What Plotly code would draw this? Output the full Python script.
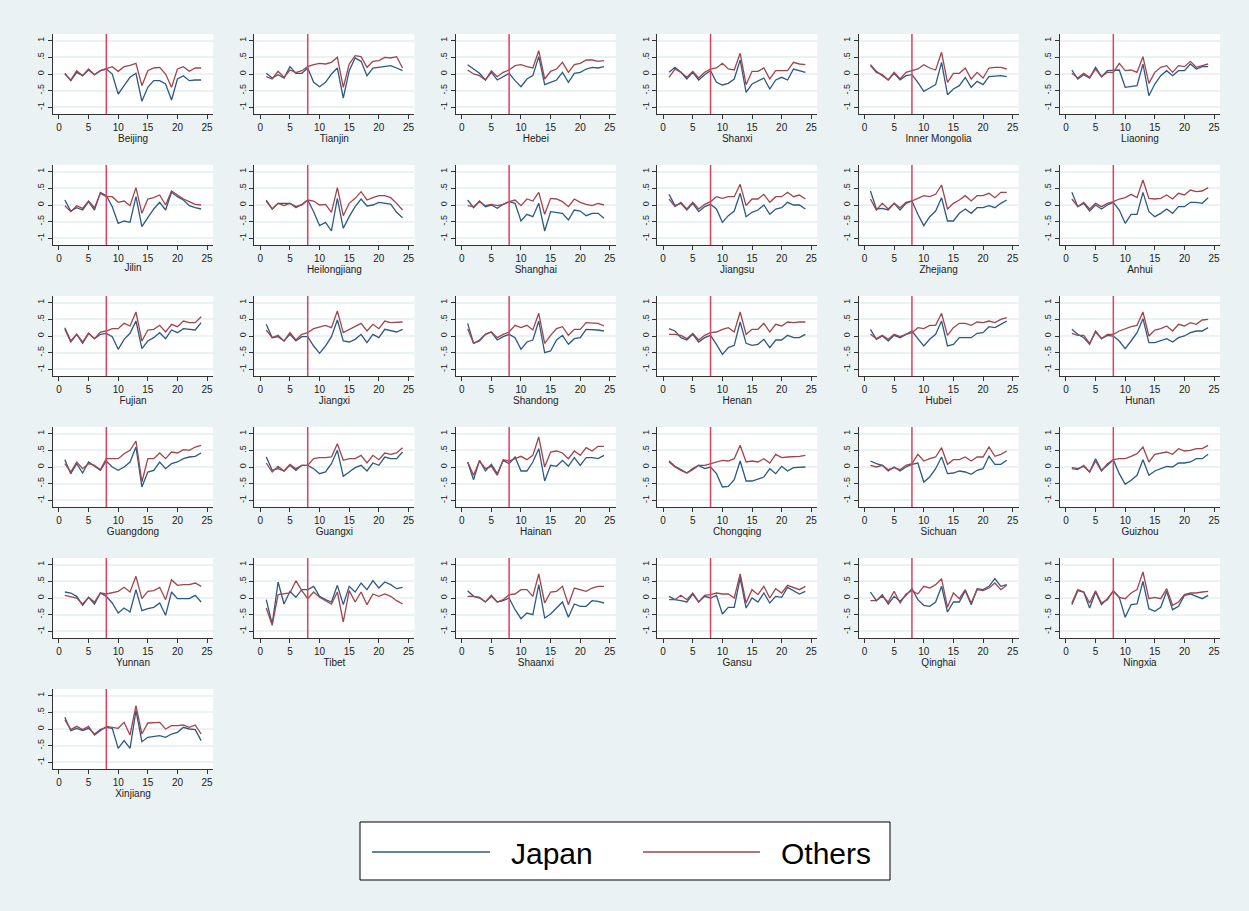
import plotly.graph_objects as go

W, H = 1249, 911

periods = list(range(1, 25))

provinces = [
    "Beijing", "Tianjin", "Hebei", "Shanxi", "Inner Mongolia", "Liaoning",
    "Jilin", "Heilongjiang", "Shanghai", "Jiangsu", "Zhejiang", "Anhui",
    "Fujian", "Jiangxi", "Shandong", "Henan", "Hubei", "Hunan",
    "Guangdong", "Guangxi", "Hainan", "Chongqing", "Sichuan", "Guizhou",
    "Yunnan", "Tibet", "Shaanxi", "Gansu", "Qinghai", "Ningxia",
    "Xinjiang",
]

japan = {
    "Beijing": [0.02, -0.2, 0.05, -0.05, 0.12, -0.02, 0.1, 0.15, 0.0, -0.6, -0.35, -0.1, 0.02, -0.82, -0.4, -0.2, -0.2, -0.3, -0.78, -0.15, -0.05, -0.2, -0.18, -0.18],
    "Tianjin": [0.02, -0.12, -0.02, -0.12, 0.22, 0.02, 0.02, 0.18, -0.25, -0.38, -0.25, 0.0, 0.18, -0.72, 0.1, 0.48, 0.38, -0.05, 0.18, 0.2, 0.24, 0.25, 0.18, 0.1],
    "Hebei": [0.28, 0.15, 0.02, -0.18, 0.05, -0.18, -0.08, 0.02, -0.2, -0.38, -0.15, -0.05, 0.52, -0.32, -0.25, -0.18, 0.05, -0.25, 0.02, 0.05, 0.15, 0.2, 0.18, 0.22],
    "Shanxi": [0.05, 0.2, 0.05, -0.15, 0.05, -0.18, -0.02, 0.1, -0.25, -0.33, -0.28, -0.15, 0.42, -0.55, -0.3, -0.2, -0.12, -0.45, -0.18, -0.1, -0.18, 0.15, 0.1, 0.05],
    "Inner Mongolia": [0.28, 0.08, -0.05, -0.18, 0.02, -0.18, -0.05, -0.02, -0.25, -0.52, -0.42, -0.32, 0.35, -0.62, -0.45, -0.35, -0.1, -0.4, -0.22, -0.32, -0.08, -0.06, -0.05, -0.08],
    "Liaoning": [0.12, -0.15, -0.02, -0.12, 0.2, -0.08, 0.1, 0.12, 0.12, -0.4, -0.38, -0.35, 0.3, -0.65, -0.3, -0.05, 0.1, -0.05, 0.1, 0.1, 0.3, 0.15, 0.22, 0.22],
    "Jilin": [0.15, -0.18, -0.08, -0.15, 0.1, -0.15, 0.38, 0.28, -0.05, -0.55, -0.48, -0.52, 0.25, -0.65, -0.38, -0.12, 0.08, -0.15, 0.38, 0.25, 0.15, -0.02, -0.08, -0.12],
    "Heilongjiang": [0.15, -0.12, 0.05, 0.05, 0.05, -0.05, 0.0, 0.15, -0.2, -0.62, -0.52, -0.78, 0.2, -0.7, -0.35, -0.05, 0.18, -0.03, 0.0, 0.08, 0.05, 0.03, -0.22, -0.38],
    "Shanghai": [0.15, -0.08, 0.12, -0.05, 0.0, -0.1, 0.02, 0.1, 0.05, -0.48, -0.28, -0.35, 0.05, -0.78, -0.2, -0.22, -0.25, -0.45, -0.15, -0.18, -0.32, -0.25, -0.25, -0.4],
    "Jiangsu": [0.32, -0.02, 0.05, -0.15, 0.05, -0.2, -0.05, 0.02, -0.12, -0.52, -0.32, -0.18, 0.35, -0.35, -0.22, -0.15, 0.0, -0.28, -0.12, -0.08, 0.08, 0.0, 0.0, -0.12],
    "Zhejiang": [0.42, -0.12, -0.1, -0.15, 0.05, -0.15, 0.05, 0.12, -0.28, -0.62, -0.35, -0.18, 0.22, -0.48, -0.48, -0.25, -0.12, -0.25, -0.08, -0.08, -0.02, -0.08, 0.05, 0.15],
    "Anhui": [0.38, -0.05, 0.05, -0.18, 0.0, -0.12, 0.0, 0.08, -0.15, -0.55, -0.28, -0.28, 0.38, -0.2, -0.35, -0.25, -0.12, -0.25, -0.05, -0.05, 0.08, 0.08, 0.05, 0.22],
    "Fujian": [0.25, -0.15, 0.05, -0.22, 0.08, -0.08, 0.05, 0.08, -0.02, -0.4, -0.1, 0.08, 0.45, -0.38, -0.15, -0.05, 0.1, -0.08, 0.18, 0.1, 0.22, 0.2, 0.18, 0.4],
    "Jiangxi": [0.35, -0.05, -0.02, -0.15, 0.05, -0.15, -0.02, -0.02, -0.3, -0.52, -0.3, -0.02, 0.48, -0.15, -0.18, -0.1, 0.05, -0.2, 0.05, -0.05, 0.2, 0.15, 0.12, 0.2],
    "Shandong": [0.38, -0.22, -0.15, 0.05, 0.12, -0.12, -0.02, 0.05, -0.05, -0.4, -0.18, -0.12, 0.45, -0.5, -0.45, -0.12, 0.02, -0.25, -0.08, -0.05, 0.2, 0.2, 0.18, 0.15],
    "Henan": [0.22, 0.15, -0.05, -0.12, 0.05, -0.18, -0.05, 0.02, -0.25, -0.55, -0.35, -0.28, 0.42, -0.22, -0.28, -0.25, -0.1, -0.35, -0.12, -0.12, 0.02, -0.05, -0.05, 0.05],
    "Hubei": [0.2, -0.1, 0.0, -0.15, 0.02, -0.05, 0.05, 0.15, -0.08, -0.3, -0.1, 0.05, 0.45, -0.3, -0.25, -0.05, -0.05, -0.05, 0.08, 0.1, 0.28, 0.25, 0.35, 0.45],
    "Hunan": [0.2, 0.05, -0.05, -0.25, 0.15, -0.08, 0.02, 0.0, -0.15, -0.38, -0.15, 0.1, 0.52, -0.2, -0.2, -0.15, -0.08, -0.18, -0.05, 0.0, 0.1, 0.15, 0.15, 0.25],
    "Guangdong": [0.22, -0.2, 0.1, -0.18, 0.15, 0.02, -0.1, 0.18, 0.0, -0.1, 0.0, 0.15, 0.6, -0.6, -0.15, -0.1, 0.15, -0.05, 0.1, 0.15, 0.25, 0.3, 0.32, 0.42],
    "Guangxi": [0.3, -0.1, -0.05, -0.12, 0.05, -0.1, 0.05, 0.05, -0.05, -0.2, -0.15, 0.1, 0.5, -0.28, -0.15, -0.02, 0.05, -0.12, 0.12, 0.05, 0.3, 0.25, 0.25, 0.45],
    "Hainan": [0.15, -0.38, 0.2, -0.12, 0.08, -0.2, 0.2, 0.1, 0.3, -0.12, -0.12, 0.15, 0.55, -0.42, 0.05, 0.02, 0.2, 0.02, 0.28, 0.05, 0.28, 0.28, 0.25, 0.35],
    "Chongqing": [0.18, 0.02, -0.08, -0.18, -0.05, 0.05, -0.05, 0.0, -0.2, -0.6, -0.58, -0.38, 0.18, -0.42, -0.42, -0.35, -0.3, -0.05, -0.2, 0.02, -0.12, -0.02, 0.0, 0.0],
    "Sichuan": [0.18, 0.1, 0.05, -0.12, 0.0, -0.12, 0.0, 0.08, 0.12, -0.45, -0.3, -0.05, 0.3, -0.2, -0.18, -0.12, -0.15, -0.22, -0.1, -0.05, 0.32, 0.08, 0.08, 0.2],
    "Guizhou": [-0.02, -0.05, 0.02, -0.15, 0.25, -0.1, 0.05, 0.22, -0.2, -0.52, -0.4, -0.25, 0.22, -0.25, -0.12, -0.05, 0.02, 0.0, 0.12, 0.12, 0.15, 0.25, 0.25, 0.38],
    "Yunnan": [0.18, 0.15, 0.05, -0.22, 0.02, -0.18, 0.15, 0.05, -0.15, -0.45, -0.3, -0.42, 0.25, -0.38, -0.32, -0.28, -0.15, -0.52, 0.18, -0.02, -0.02, -0.02, 0.08, -0.12],
    "Tibet": [-0.05, -0.78, 0.48, -0.18, 0.2, 0.02, 0.25, 0.25, 0.35, 0.05, -0.05, -0.12, 0.38, -0.2, 0.35, 0.18, 0.45, 0.25, 0.52, 0.3, 0.48, 0.4, 0.28, 0.32],
    "Shaanxi": [0.22, 0.05, 0.02, -0.12, 0.05, -0.12, -0.08, 0.0, -0.35, -0.62, -0.45, -0.5, 0.4, -0.6, -0.48, -0.3, -0.12, -0.58, -0.18, -0.25, -0.25, -0.08, -0.1, -0.15],
    "Gansu": [0.05, -0.05, -0.08, -0.12, 0.12, -0.12, 0.05, 0.0, 0.08, -0.48, -0.28, -0.28, 0.6, -0.3, 0.0, -0.12, 0.15, -0.15, 0.05, 0.02, 0.32, 0.22, 0.12, 0.2],
    "Qinghai": [0.18, -0.08, 0.1, -0.18, 0.05, -0.1, 0.08, 0.28, -0.05, -0.22, -0.25, -0.12, 0.35, -0.42, -0.12, -0.12, 0.22, -0.2, 0.28, 0.25, 0.35, 0.58, 0.35, 0.4],
    "Ningxia": [-0.2, 0.22, 0.18, -0.3, 0.18, -0.2, -0.02, 0.2, 0.02, -0.58, -0.2, -0.18, 0.5, -0.32, -0.4, -0.28, 0.2, -0.35, -0.25, 0.08, 0.12, 0.05, -0.02, 0.08],
    "Xinjiang": [0.35, -0.05, 0.02, -0.05, 0.02, -0.15, -0.02, 0.05, 0.02, -0.58, -0.35, -0.58, 0.55, -0.38, -0.25, -0.22, -0.2, -0.25, -0.15, -0.1, 0.05, 0.0, -0.02, -0.35],
}

others = {
    "Beijing": [0.0, -0.18, 0.1, -0.05, 0.15, -0.02, 0.1, 0.15, 0.22, 0.08, 0.22, 0.26, 0.32, -0.35, 0.1, 0.18, 0.2, 0.0, -0.4, 0.15, 0.22, 0.08, 0.18, 0.18],
    "Tianjin": [-0.08, -0.15, 0.08, -0.1, 0.12, 0.04, 0.1, 0.22, 0.28, 0.32, 0.3, 0.35, 0.5, -0.4, 0.3, 0.55, 0.52, 0.2, 0.38, 0.4, 0.5, 0.48, 0.52, 0.18],
    "Hebei": [0.12, 0.0, -0.05, -0.18, 0.1, -0.08, 0.05, 0.12, 0.25, 0.28, 0.22, 0.18, 0.7, -0.15, 0.08, 0.15, 0.35, 0.05, 0.28, 0.32, 0.42, 0.42, 0.38, 0.4],
    "Shanxi": [-0.1, 0.15, 0.05, -0.1, 0.08, -0.12, 0.05, 0.15, 0.18, 0.32, 0.15, 0.12, 0.62, -0.32, 0.08, 0.08, 0.18, -0.15, 0.1, 0.1, 0.1, 0.35, 0.3, 0.28],
    "Inner Mongolia": [0.25, 0.05, -0.02, -0.18, 0.05, -0.15, 0.05, 0.1, 0.15, 0.28, 0.18, 0.12, 0.65, -0.25, 0.02, 0.02, 0.18, -0.15, 0.05, -0.12, 0.18, 0.2, 0.2, 0.15],
    "Liaoning": [0.02, -0.12, 0.02, -0.1, 0.15, -0.08, 0.05, 0.05, 0.32, 0.1, 0.12, 0.05, 0.52, -0.28, 0.05, 0.2, 0.25, 0.05, 0.25, 0.22, 0.38, 0.2, 0.25, 0.3],
    "Jilin": [-0.02, -0.2, -0.02, -0.1, 0.12, -0.08, 0.35, 0.25, 0.25, 0.08, 0.12, -0.02, 0.52, -0.25, 0.18, 0.22, 0.3, 0.0, 0.42, 0.3, 0.18, 0.1, 0.02, 0.0],
    "Heilongjiang": [0.12, -0.12, 0.05, -0.02, 0.05, -0.08, 0.02, 0.15, 0.12, 0.0, 0.02, -0.22, 0.52, -0.32, 0.05, 0.2, 0.4, 0.15, 0.22, 0.28, 0.28, 0.22, 0.05, -0.15],
    "Shanghai": [-0.02, -0.05, 0.1, -0.02, 0.02, -0.02, 0.02, 0.1, 0.15, -0.02, 0.18, 0.12, 0.38, -0.28, 0.2, 0.18, 0.1, -0.05, 0.18, 0.08, 0.02, -0.02, 0.05, 0.0],
    "Jiangsu": [0.18, -0.05, 0.08, -0.12, 0.08, -0.12, 0.02, 0.1, 0.25, 0.2, 0.25, 0.25, 0.62, -0.02, 0.18, 0.18, 0.32, 0.08, 0.25, 0.25, 0.38, 0.25, 0.3, 0.18],
    "Zhejiang": [0.18, -0.15, 0.05, -0.12, 0.05, -0.08, 0.08, 0.12, 0.2, 0.28, 0.25, 0.32, 0.6, -0.12, 0.05, 0.15, 0.28, 0.12, 0.28, 0.28, 0.35, 0.22, 0.38, 0.38],
    "Anhui": [0.18, -0.05, 0.08, -0.12, 0.05, -0.05, 0.05, 0.1, 0.18, 0.22, 0.32, 0.22, 0.75, 0.2, 0.18, 0.2, 0.3, 0.18, 0.35, 0.3, 0.45, 0.4, 0.42, 0.52],
    "Fujian": [0.2, -0.18, 0.05, -0.18, 0.08, -0.08, 0.12, 0.15, 0.22, 0.22, 0.38, 0.3, 0.72, -0.15, 0.18, 0.2, 0.32, 0.12, 0.35, 0.28, 0.45, 0.4, 0.4, 0.58],
    "Jiangxi": [0.18, -0.05, 0.02, -0.15, 0.1, -0.12, 0.05, 0.1, 0.22, 0.28, 0.32, 0.25, 0.75, 0.1, 0.2, 0.28, 0.38, 0.15, 0.35, 0.22, 0.45, 0.4, 0.4, 0.42],
    "Shandong": [0.22, -0.22, -0.12, 0.05, 0.12, -0.05, 0.05, 0.12, 0.32, 0.25, 0.32, 0.18, 0.68, -0.22, 0.02, 0.22, 0.28, 0.02, 0.2, 0.2, 0.4, 0.38, 0.38, 0.3],
    "Henan": [0.05, 0.05, 0.02, -0.08, 0.08, -0.12, 0.02, 0.1, 0.12, 0.2, 0.25, 0.12, 0.72, 0.05, 0.2, 0.2, 0.38, 0.12, 0.35, 0.3, 0.42, 0.4, 0.42, 0.42],
    "Hubei": [0.05, -0.08, 0.02, -0.1, 0.05, -0.02, 0.05, 0.1, 0.25, 0.22, 0.32, 0.32, 0.68, 0.02, 0.25, 0.38, 0.38, 0.32, 0.42, 0.4, 0.45, 0.4, 0.5, 0.55],
    "Hunan": [0.08, 0.02, 0.02, -0.22, 0.12, -0.08, 0.05, 0.05, 0.15, 0.22, 0.28, 0.32, 0.72, 0.0, 0.18, 0.22, 0.3, 0.15, 0.35, 0.3, 0.4, 0.35, 0.48, 0.5],
    "Guangdong": [0.1, -0.15, 0.15, -0.05, 0.1, 0.05, -0.08, 0.25, 0.25, 0.25, 0.4, 0.5, 0.78, -0.45, 0.25, 0.25, 0.42, 0.25, 0.45, 0.42, 0.52, 0.5, 0.6, 0.65],
    "Guangxi": [0.12, -0.15, 0.02, -0.12, 0.08, -0.05, 0.05, 0.05, 0.25, 0.28, 0.28, 0.3, 0.7, 0.2, 0.25, 0.25, 0.35, 0.12, 0.35, 0.22, 0.42, 0.38, 0.42, 0.58],
    "Hainan": [0.15, -0.25, 0.18, -0.05, 0.02, -0.25, 0.22, 0.18, 0.25, 0.32, 0.22, 0.35, 0.9, 0.0, 0.45, 0.48, 0.42, 0.25, 0.48, 0.35, 0.58, 0.48, 0.62, 0.62],
    "Chongqing": [0.15, 0.0, -0.1, -0.18, -0.08, 0.05, 0.05, 0.1, 0.15, 0.2, 0.18, 0.25, 0.65, 0.15, 0.18, 0.15, 0.25, 0.12, 0.38, 0.28, 0.3, 0.3, 0.32, 0.35],
    "Sichuan": [0.05, 0.0, 0.05, -0.08, -0.02, -0.08, 0.05, 0.1, 0.38, 0.18, 0.25, 0.3, 0.58, 0.08, 0.22, 0.22, 0.3, 0.18, 0.3, 0.3, 0.6, 0.32, 0.38, 0.48],
    "Guizhou": [-0.05, -0.08, 0.05, -0.15, 0.18, -0.12, 0.1, 0.22, 0.25, 0.25, 0.32, 0.4, 0.6, 0.15, 0.38, 0.42, 0.45, 0.38, 0.55, 0.48, 0.5, 0.55, 0.55, 0.65],
    "Yunnan": [0.08, 0.05, 0.0, -0.18, 0.02, -0.12, 0.15, 0.12, 0.15, 0.2, 0.32, 0.18, 0.65, -0.02, 0.2, 0.22, 0.32, -0.05, 0.55, 0.38, 0.4, 0.4, 0.45, 0.35],
    "Tibet": [-0.3, -0.82, 0.1, 0.12, 0.15, 0.52, 0.22, -0.02, 0.18, 0.02, -0.08, -0.18, 0.18, -0.72, 0.22, -0.12, 0.18, -0.2, 0.12, 0.05, 0.12, 0.05, -0.08, -0.18],
    "Shaanxi": [0.05, 0.05, 0.0, -0.12, 0.08, -0.12, -0.05, 0.1, 0.12, 0.25, 0.25, 0.05, 0.72, -0.15, 0.18, 0.2, 0.35, -0.2, 0.3, 0.25, 0.2, 0.3, 0.35, 0.35],
    "Gansu": [-0.05, -0.05, 0.08, -0.05, 0.15, -0.12, 0.08, 0.1, 0.15, 0.12, 0.12, 0.0, 0.72, -0.15, 0.25, 0.1, 0.35, 0.0, 0.28, 0.15, 0.38, 0.32, 0.25, 0.35],
    "Qinghai": [-0.08, -0.08, 0.05, -0.12, 0.2, -0.15, 0.12, 0.22, 0.12, 0.35, 0.3, 0.4, 0.58, -0.28, 0.15, -0.02, 0.25, -0.15, 0.25, 0.22, 0.3, 0.45, 0.25, 0.38],
    "Ningxia": [-0.15, 0.25, 0.18, -0.15, 0.22, -0.15, -0.05, 0.22, 0.02, -0.02, 0.15, 0.25, 0.78, -0.02, 0.02, -0.02, 0.28, -0.22, -0.12, 0.1, 0.15, 0.15, 0.18, 0.2],
    "Xinjiang": [0.28, -0.02, 0.08, -0.02, 0.08, -0.18, -0.05, 0.08, 0.05, 0.02, 0.2, -0.18, 0.7, -0.15, 0.18, 0.2, 0.2, 0.0, 0.1, 0.1, 0.12, 0.05, 0.12, -0.15],
}

event_period = 8

x_ticks = [0, 5, 10, 15, 20, 25]
y_ticks = [-1, -0.5, 0, 0.5, 1]
y_tick_text = ["-1", "-.5", "0", ".5", "1"]

BLUE = "#2C5A84"
RED = "#A0454C"
VLINE = "#D8435E"
BG = "#EAF2F3"
FONT = "Liberation Sans, Arial, sans-serif"

fig = go.Figure()
layout = dict(
    width=W, height=H,
    margin=dict(l=0, r=0, t=0, b=0),
    paper_bgcolor=BG,
    plot_bgcolor="white",
    showlegend=False,
    font=dict(family=FONT, color="#222"),
)
shapes = []
annotations = []

ncols = 6
col_step, row_step = 201.4, 131
left0, top0 = 53, 34
pw, ph = 160, 80

for i, name in enumerate(provinces):
    r, c = divmod(i, ncols)
    L = left0 + col_step * c
    T = top0 + row_step * r
    n = "" if i == 0 else str(i + 1)
    xa, ya = "x" + n, "y" + n

    fig.add_trace(go.Scatter(x=periods, y=japan[name], mode="lines",
                             line=dict(color=BLUE, width=1.3),
                             xaxis=xa, yaxis=ya, name="Japan"))
    fig.add_trace(go.Scatter(x=periods, y=others[name], mode="lines",
                             line=dict(color=RED, width=1.3),
                             xaxis=xa, yaxis=ya, name="Others"))

    layout["xaxis" + n] = dict(
        domain=[L / W, (L + pw) / W], anchor=ya, range=[-1, 26],
        tickvals=x_ticks, ticks="outside", ticklen=4, tickcolor="#333",
        showline=True, linecolor="#333", linewidth=1,
        showgrid=False, zeroline=False,
        tickfont=dict(size=10, color="#222"),
        title=dict(text=name, font=dict(size=10, color="#222"), standoff=0),
    )
    layout["yaxis" + n] = dict(
        domain=[1 - (T + ph) / H, 1 - T / H], anchor=xa, range=[-1.2, 1.2],
        tickvals=y_ticks, ticktext=y_tick_text, tickangle=-90,
        ticks="outside", ticklen=4, tickcolor="#333",
        showline=True, linecolor="#333", linewidth=1,
        showgrid=True, gridcolor=BG, gridwidth=1.5, zeroline=False,
        tickfont=dict(size=9, color="#222"),
    )
    shapes.append(dict(type="line", xref=xa, yref=ya + " domain",
                       x0=event_period, x1=event_period, y0=0, y1=1,
                       line=dict(color=VLINE, width=1.5)))

# Legend box drawn in pixel-based paper coordinates
def px(x):
    return x / W

def py(y):
    return 1 - y / H

shapes.append(dict(type="rect", xref="paper", yref="paper",
                   x0=px(360), x1=px(890), y0=py(880), y1=py(822),
                   fillcolor="white", line=dict(color="black", width=1)))
legend_items = [("Japan", BLUE, 372, 490, 509), ("Others", RED, 643, 760, 779)]
for label, color, lx0, lx1, tx in legend_items:
    shapes.append(dict(type="line", xref="paper", yref="paper",
                       x0=px(lx0), x1=px(lx1), y0=py(852), y1=py(852),
                       line=dict(color=color, width=1.6)))
    annotations.append(dict(text=label, xref="paper", yref="paper",
                            x=px(tx), y=py(853), xanchor="left", yanchor="middle",
                            showarrow=False,
                            font=dict(size=30, family=FONT, color="black")))

layout["shapes"] = shapes
layout["annotations"] = annotations
fig.update_layout(**layout)

fig.write_html("out.html")
